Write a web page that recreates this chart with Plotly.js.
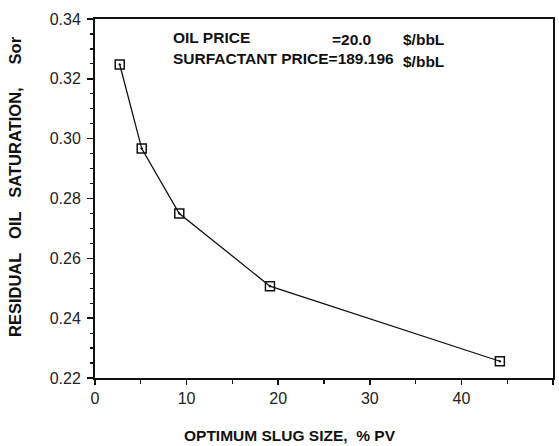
<!DOCTYPE html>
<html>
<head>
<meta charset="utf-8">
<script src="https://cdn.plot.ly/plotly-3.0.1.min.js"></script>
<style>
  html, body { margin: 0; padding: 0; background: #ffffff; }
  #chart { width: 559px; height: 446px; }
</style>
</head>
<body>
<div id="chart"></div>
<script>
// Data
const slugSize = [2.7, 5.1, 9.2, 19.1, 44.2];                 // optimum slug size, % PV
const residualOil = [0.3248, 0.2967, 0.2750, 0.2507, 0.2256]; // Sor

const xTickVals = [0, 10, 20, 30, 40, 50];
const xTickText = ['0', '10', '20', '30', '40', '50'];
const yTickVals = [0.22, 0.24, 0.26, 0.28, 0.30, 0.32, 0.34];
const yTickText = ['0.22', '0.24', '0.26', '0.28', '0.30', '0.32', '0.34'];

const NB = '\u00a0';
const xTitle = 'OPTIMUM SLUG SIZE,' + NB + NB + '% PV';
const yTitle = 'RESIDUAL' + NB + NB + NB + 'OIL' + NB + NB + NB + 'SATURATION,' + NB + NB + NB + NB + NB + 'Sor';
const noteLabel1 = 'OIL PRICE';
const noteValue1 = '=20.0';
const noteLabel2 = 'SURFACTANT PRICE=189.196';
const noteUnit = '$/bbL';

// layout geometry (pixels)
const W = 559, H = 446;
const L = 95, R = 553, T = 19, B = 378;
const px = v => (v - L) / (R - L);
const py = v => (B - v) / (B - T);

const FONT = 'Arial, "Liberation Sans", Helvetica, sans-serif';
const boldFont = {family: FONT, size: 15.5, color: '#111', weight: 'bold'};

const trace = {
  x: slugSize,
  y: residualOil,
  type: 'scatter',
  mode: 'lines+markers',
  line: {color: '#111', width: 1.3},
  marker: {symbol: 'square-open-dot', size: 9, color: '#111', line: {width: 1.5, color: '#111'}},
  showlegend: false,
  hoverinfo: 'x+y'
};

const layout = {
  width: W, height: H,
  margin: {l: L, r: W - R, t: T, b: H - B, pad: 0},
  paper_bgcolor: '#ffffff',
  plot_bgcolor: '#ffffff',
  font: {family: FONT, color: '#111'},
  xaxis: {
    range: [0, 50],
    tickvals: xTickVals, ticktext: xTickText,
    ticks: 'outside', ticklen: 5, tickwidth: 1.5, tickcolor: '#111',
    minor: {dtick: 5, tick0: 0, ticks: 'outside', ticklen: 4, tickwidth: 1.2, tickcolor: '#111', showgrid: false},
    showline: true, linecolor: '#111', linewidth: 2, mirror: true,
    showgrid: false, zeroline: false,
    tickfont: {family: FONT, size: 16, color: '#222'},
    ticklabelstandoff: 0
  },
  yaxis: {
    range: [0.22, 0.34],
    tickvals: yTickVals, ticktext: yTickText,
    ticks: 'outside', ticklen: 6, tickwidth: 1.5, tickcolor: '#111',
    minor: {dtick: 0.005, tick0: 0.22, ticks: 'outside', ticklen: 3, tickwidth: 1.2, tickcolor: '#111', showgrid: false},
    showline: true, linecolor: '#111', linewidth: 2, mirror: true,
    showgrid: false, zeroline: false,
    tickfont: {family: FONT, size: 16, color: '#222'},
    ticklabelstandoff: 3
  },
  annotations: [
    {text: noteLabel1, xref: 'paper', yref: 'paper', x: px(171), y: py(37), xanchor: 'left', yanchor: 'middle', showarrow: false, font: boldFont},
    {text: noteValue1, xref: 'paper', yref: 'paper', x: px(330), y: py(39), xanchor: 'left', yanchor: 'middle', showarrow: false, font: boldFont},
    {text: noteUnit, xref: 'paper', yref: 'paper', x: px(401), y: py(39), xanchor: 'left', yanchor: 'middle', showarrow: false, font: boldFont},
    {text: noteLabel2, xref: 'paper', yref: 'paper', x: px(171), y: py(59), xanchor: 'left', yanchor: 'middle', showarrow: false, font: boldFont},
    {text: noteUnit, xref: 'paper', yref: 'paper', x: px(401), y: py(62), xanchor: 'left', yanchor: 'middle', showarrow: false, font: boldFont},
    {text: xTitle, xref: 'paper', yref: 'paper', x: px(290), y: py(435), xanchor: 'center', yanchor: 'middle', showarrow: false,
     font: {family: FONT, size: 15.5, color: '#111', weight: 'bold'}},
    {text: yTitle, xref: 'paper', yref: 'paper', x: px(15), y: py(187), xanchor: 'center', yanchor: 'middle', textangle: -90, showarrow: false,
     font: {family: FONT, size: 16.5, color: '#111', weight: 'bold'}}
  ]
};

Plotly.newPlot('chart', [trace], layout, {staticPlot: true, displayModeBar: false});
</script>
</body>
</html>
